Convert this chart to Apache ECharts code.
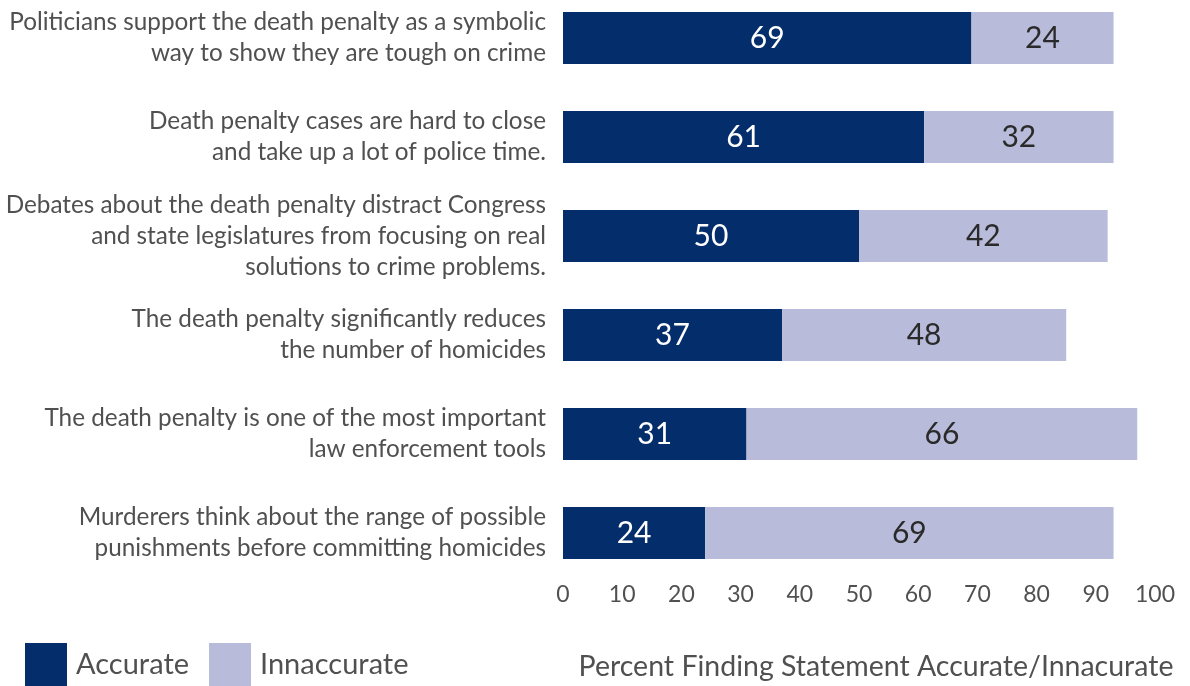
<!DOCTYPE html>
<html>
<head>
<meta charset="utf-8">
<script src="https://cdn.jsdelivr.net/npm/echarts@6/dist/echarts.min.js"></script>
<style>
  html, body { margin: 0; padding: 0; background: #fff; }
  #chart { width: 1190px; height: 686px; }
</style>
</head>
<body>
<div id="chart"></div>
<script>
// statements, top to bottom
const statements = [
  "Politicians support the death penalty as a symbolic\nway to show they are tough on crime",
  "Death penalty cases are hard to close\nand take up a lot of police time.",
  "Debates about the death penalty distract Congress\nand state legislatures from focusing on real\nsolutions to crime problems.",
  "The death penalty significantly reduces\nthe number of homicides",
  "The death penalty is one of the most important\nlaw enforcement tools",
  "Murderers think about the range of possible\npunishments before committing homicides"
];
const accurate = [69, 61, 50, 37, 31, 24];
const inaccurate = [24, 32, 42, 48, 66, 69];
const xTicks = [0, 10, 20, 30, 40, 50, 60, 70, 80, 90, 100];

const navy = "#032d6b";
const lilac = "#b8bcda";
const textGrey = "#505050";
const fontFam = "Lato, 'Noto Sans', sans-serif";

const chart = echarts.init(document.getElementById("chart"));

// category centres sit on the grid edges (boundaryGap false)
const option = {
  animation: false,
  textStyle: { fontFamily: fontFam },
  legend: {
    left: 20,
    bottom: -6,
    itemWidth: 42,
    itemHeight: 44,
    itemGap: 20,
    icon: "rect",
    textStyle: { color: textGrey, fontSize: 29, fontFamily: fontFam, padding: [0, 0, 0, 4] },
    data: ["Accurate", "Innaccurate"]
  },
  grid: { left: 563, right: 35, top: 38, bottom: 151, containLabel: false },
  xAxis: {
    type: "value",
    min: xTicks[0],
    max: xTicks[xTicks.length - 1],
    interval: 10,
    splitLine: { show: false },
    axisLine: { show: false },
    axisTick: { show: false },
    axisLabel: { color: textGrey, fontSize: 23, margin: 50, fontFamily: fontFam },
    name: "Percent Finding Statement Accurate/Innacurate",
    nameLocation: "middle",
    nameGap: 119,
    nameTextStyle: { color: textGrey, fontSize: 28.5, fontFamily: fontFam, padding: [0, 0, 0, 34] }
  },
  yAxis: {
    type: "category",
    inverse: true,
    boundaryGap: false,
    data: statements,
    axisLine: { show: false },
    axisTick: { show: false },
    axisLabel: {
      color: textGrey,
      fontSize: 24.3,
      lineHeight: 31,
      align: "right",
      margin: 17,
      fontFamily: fontFam
    }
  },
  series: [
    {
      name: "Accurate",
      type: "bar",
      stack: "total",
      barWidth: 52,
      data: accurate,
      itemStyle: { color: navy },
      label: { show: true, position: "inside", color: "#ffffff", fontSize: 30, fontFamily: fontFam }
    },
    {
      name: "Innaccurate",
      type: "bar",
      stack: "total",
      barWidth: 52,
      data: inaccurate,
      itemStyle: { color: lilac },
      label: { show: true, position: "inside", color: "#2a2a2a", fontSize: 30, fontFamily: fontFam }
    }
  ]
};

chart.setOption(option);
</script>
</body>
</html>
